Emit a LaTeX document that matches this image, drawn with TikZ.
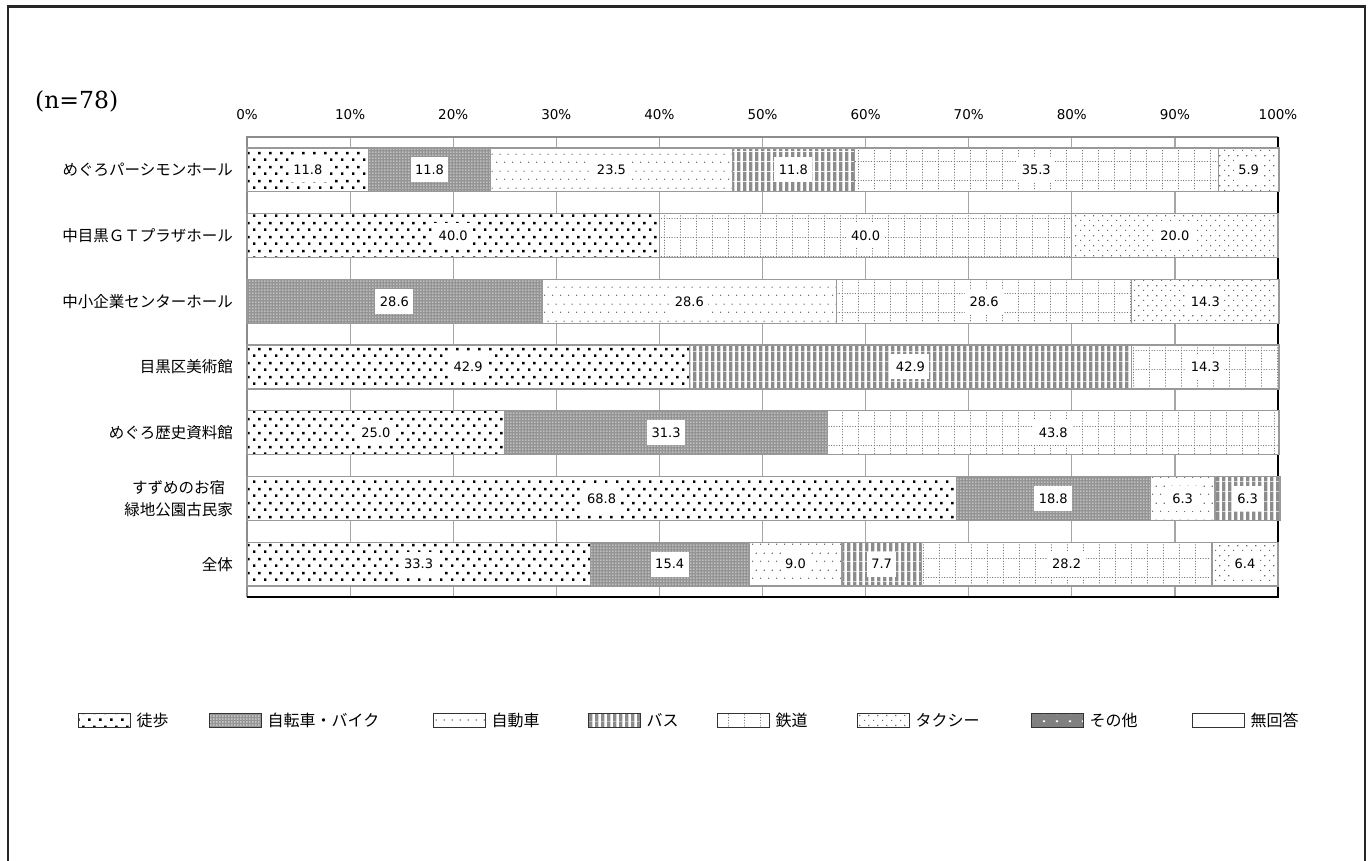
\documentclass[tikz,border=0pt]{standalone}
\usepackage{fontspec}
\setmainfont{DejaVu Sans}
\newfontfamily\jpfont{Noto Sans CJK JP}
\newfontfamily\nfont{DejaVu Serif}
\usepackage{tikz}
\usetikzlibrary{patterns, positioning}

% Fill patterns (1pt = 1px)
\pgfdeclarepatternformonly{walkdots}{\pgfqpoint{0pt}{0pt}}{\pgfqpoint{11pt}{14pt}}{\pgfqpoint{11pt}{14pt}}{%
  \pgfpathrectangle{\pgfqpoint{0pt}{0pt}}{\pgfqpoint{2.7pt}{2.7pt}}%
  \pgfpathrectangle{\pgfqpoint{5.5pt}{7pt}}{\pgfqpoint{2.7pt}{2.7pt}}%
  \pgfusepath{fill}}
\pgfdeclarepatternformonly{bikedots}{\pgfqpoint{0pt}{0pt}}{\pgfqpoint{3pt}{3pt}}{\pgfqpoint{3pt}{3pt}}{%
  \pgfpathrectangle{\pgfqpoint{0.5pt}{0.5pt}}{\pgfqpoint{1.4pt}{1.4pt}}%
  \pgfusepath{fill}}
\pgfdeclarepatternformonly{cardots}{\pgfqpoint{0pt}{0pt}}{\pgfqpoint{8pt}{16.6pt}}{\pgfqpoint{8pt}{16.6pt}}{%
  \pgfpathrectangle{\pgfqpoint{0pt}{0pt}}{\pgfqpoint{1.3pt}{1.3pt}}%
  \pgfpathrectangle{\pgfqpoint{4pt}{8.3pt}}{\pgfqpoint{1.3pt}{1.3pt}}%
  \pgfusepath{fill}}
\pgfdeclarepatternformonly{busstripes}{\pgfqpoint{0pt}{0pt}}{\pgfqpoint{5.5pt}{10pt}}{\pgfqpoint{5.5pt}{10pt}}{%
  \pgfpathrectangle{\pgfqpoint{0pt}{0pt}}{\pgfqpoint{3.6pt}{10pt}}%
  \pgfusepath{fill}}
\pgfdeclarepatternformonly{railgrid}{\pgfqpoint{0pt}{0pt}}{\pgfqpoint{16.2pt}{18.9pt}}{\pgfqpoint{16.2pt}{18.9pt}}{%
  \pgfsetlinewidth{0.9pt}%
  \pgfsetdash{{1pt}{1.7pt}}{0pt}%
  \pgfpathmoveto{\pgfqpoint{0.5pt}{0pt}}\pgfpathlineto{\pgfqpoint{0.5pt}{18.9pt}}%
  \pgfpathmoveto{\pgfqpoint{0pt}{0.5pt}}\pgfpathlineto{\pgfqpoint{16.2pt}{0.5pt}}%
  \pgfusepath{stroke}}
\pgfdeclarepatternformonly{taxidots}{\pgfqpoint{0pt}{0pt}}{\pgfqpoint{9pt}{10pt}}{\pgfqpoint{9pt}{10pt}}{%
  \pgfpathrectangle{\pgfqpoint{0pt}{0pt}}{\pgfqpoint{1.3pt}{1.3pt}}%
  \pgfpathrectangle{\pgfqpoint{4.5pt}{5pt}}{\pgfqpoint{1.3pt}{1.3pt}}%
  \pgfusepath{fill}}
\pgfdeclarepatternformonly{otherdots}{\pgfqpoint{0pt}{0pt}}{\pgfqpoint{13pt}{8pt}}{\pgfqpoint{13pt}{8pt}}{%
  \pgfpathrectangle{\pgfqpoint{3pt}{3pt}}{\pgfqpoint{2.5pt}{2pt}}%
  \pgfusepath{fill}}

% one bar row: #1 row, #2 category, #3 list style/value
\newcommand{\barrow}[3]{%
  \pgfmathsetmacro{\ry}{137+(#1-0.5)*65.71}
  \node[catlabel] (c#1) at (233,\ry) {#2};
  \foreach \sty/\val [count=\k, evaluate=\val as \xe using \xs+\val, remember=\xe as \xs (initially 0)] in {#3} {
    \draw[seg, \sty] ({247+10.31*\xs},{\ry-21.9}) rectangle ({247+10.31*\xe},{\ry+21.9});
    \node[vallabel] (v#1-\k) at ({247+10.31*(\xs+\xe)/2},\ry) {\val};
  }%
}

\begin{document}
\begin{tikzpicture}[
        x=1pt, y=-1pt,
        frame/.style={draw=black!85, line width=2.2pt},
        grid/.style={draw=black!35, line width=1.2pt},
        seg/.style={draw=black!40, line width=1.3pt},
        walkfill/.style={preaction={fill=white}, pattern=walkdots, pattern color=black},
        bikefill/.style={preaction={fill=black!42}, pattern=bikedots, pattern color=white},
        carfill/.style={preaction={fill=white}, pattern=cardots, pattern color=black!55},
        busfill/.style={preaction={fill=white}, pattern=busstripes, pattern color=black!45},
        railfill/.style={preaction={fill=white}, pattern=railgrid, pattern color=black!55},
        taxifill/.style={preaction={fill=white}, pattern=taxidots, pattern color=black!60},
        otherfill/.style={preaction={fill=black!50}, pattern=otherdots, pattern color=white},
        nonefill/.style={fill=white},
        vallabel/.style={fill=white, inner xsep=4.5pt, inner ysep=0pt, minimum height=25pt, text height=9.5pt, text depth=0pt, font=\fontsize{13}{15}\selectfont},
        ticklabel/.style={inner sep=0pt, font=\fontsize{13.5}{16}\selectfont},
        catlabel/.style={anchor=east, align=center, inner sep=0pt, font=\jpfont\fontsize{15.5}{22}\selectfont},
        legbox/.style={draw=black!80, line width=0.8pt, minimum width=52pt, minimum height=14pt, inner sep=0pt},
        legtext/.style={inner sep=0pt, font=\jpfont\fontsize{16}{18}\selectfont}
    ]
        \useasboundingbox (0,0) rectangle (1370,861);
        \fill[white] (0,0) rectangle (1370,861);

        % Outer frame
        \draw[frame] (8,861) -- (8,6.5) -- (1365,6.5) -- (1365,861);

        % Sample size
        \node[anchor=base west, inner sep=0pt, font=\nfont\fontsize{23.5}{26}\selectfont] (n) at (35,109) {(n=78)};

        % Grid and axis labels
        \foreach \i in {0,...,10} {
            \pgfmathtruncatemacro{\pc}{10*\i}
            \draw[grid] ({247+103.1*\i},137) -- ({247+103.1*\i},597);
            \node[ticklabel] (t\i) at ({247+103.1*\i},114.5) {\pc\%};
        }
        \draw[draw=black!45, line width=1.2pt] (1278,137) -- (247,137) -- (247,597);
        \draw[black, line width=1.3pt] (247,597) -- (1278,597) -- (1278,137);

        % Bars
        \barrow{1}{めぐろパーシモンホール}{walkfill/11.8, bikefill/11.8, carfill/23.5, busfill/11.8, railfill/35.3, taxifill/5.9}
        \barrow{2}{中目黒ＧＴプラザホール}{walkfill/40.0, railfill/40.0, taxifill/20.0}
        \barrow{3}{中小企業センターホール}{bikefill/28.6, carfill/28.6, railfill/28.6, taxifill/14.3}
        \barrow{4}{目黒区美術館}{walkfill/42.9, busfill/42.9, railfill/14.3}
        \barrow{5}{めぐろ歴史資料館}{walkfill/25.0, bikefill/31.3, railfill/43.8}
        \barrow{6}{すずめのお宿\\緑地公園古民家}{walkfill/68.8, bikefill/18.8, carfill/6.3, busfill/6.3}
        \barrow{7}{全体}{walkfill/33.3, bikefill/15.4, carfill/9.0, busfill/7.7, railfill/28.2, taxifill/6.4}

        % Legend
        \foreach \bx/\sty/\txt [count=\k] in {78/walkfill/徒歩, 209/bikefill/自転車・バイク, 433/carfill/自動車, 588/busfill/バス, 717/railfill/鉄道, 857/taxifill/タクシー, 1031/otherfill/その他, 1192/nonefill/無回答} {
            \node[legbox, \sty] (lb\k) at ({\bx+26},720) {};
            \node[legtext, right=6pt of lb\k] (lt\k) {\txt};
        }

    \end{tikzpicture}
\end{document}
